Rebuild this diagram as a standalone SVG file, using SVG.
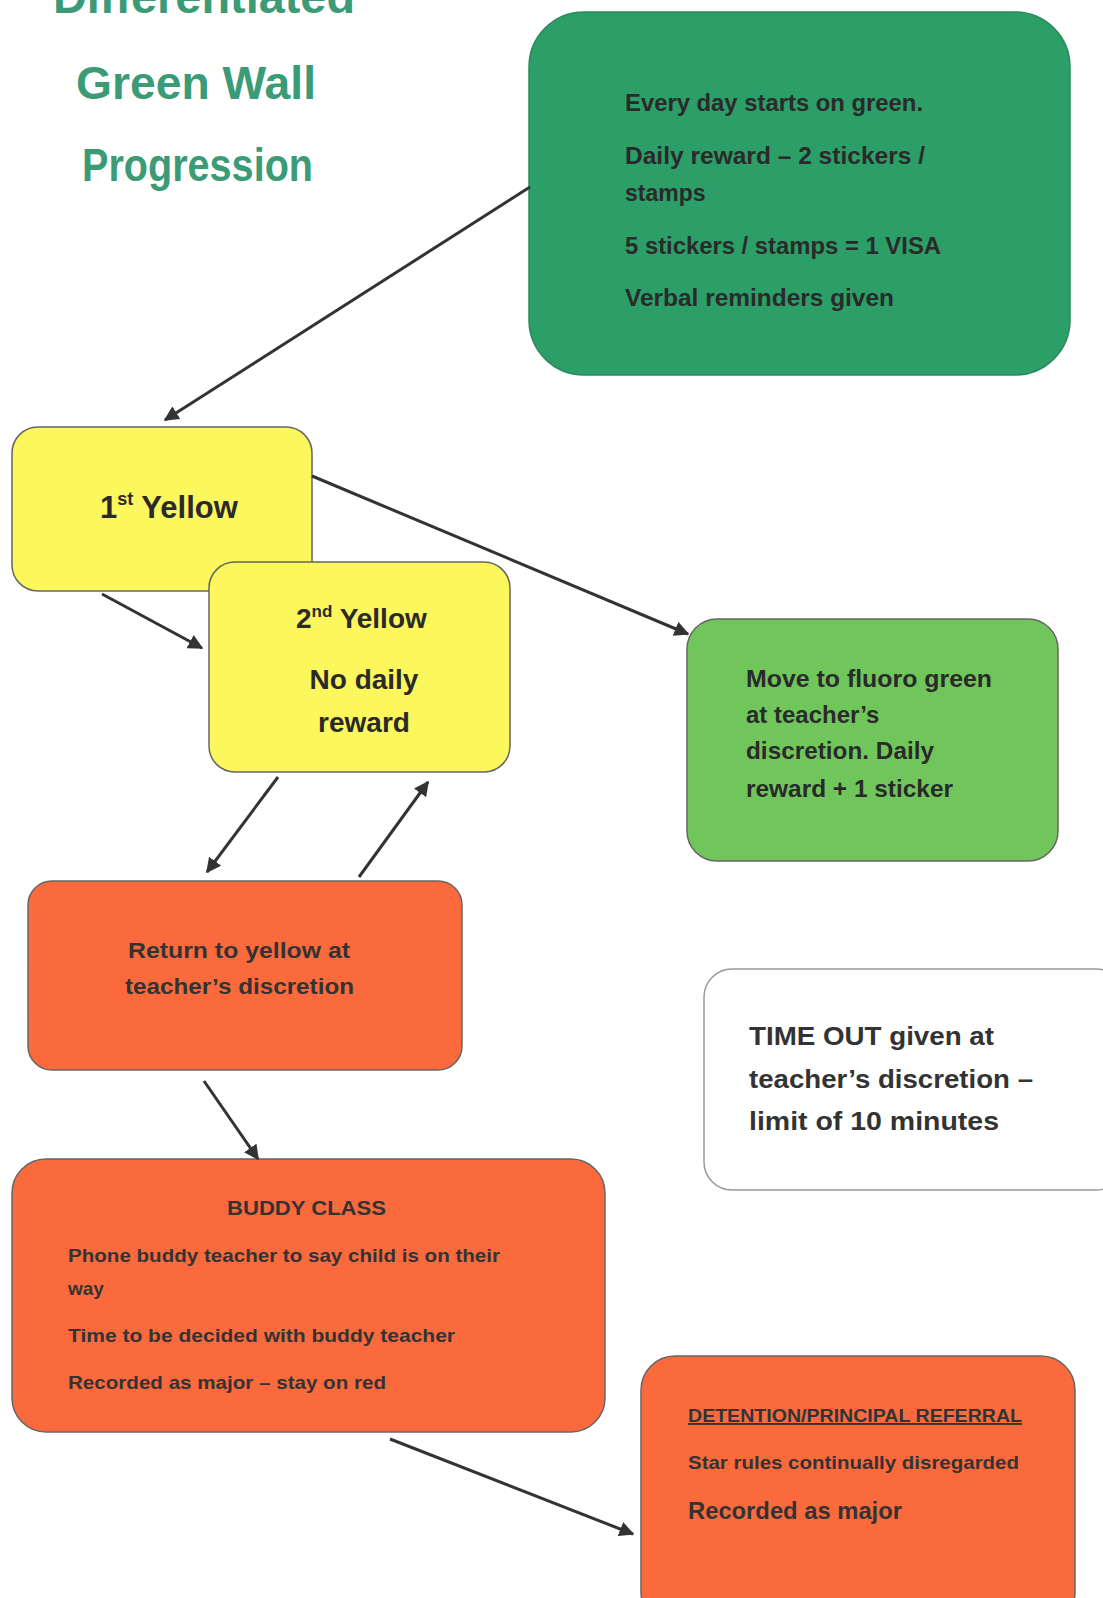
<svg xmlns="http://www.w3.org/2000/svg" width="1103" height="1598" viewBox="0 0 1103 1598">
<style>
.title{font-family:"Liberation Sans",Arial,sans-serif;font-weight:bold;font-size:46px;fill:#3b9b76}
.t{font-family:"Liberation Sans",Arial,sans-serif;font-weight:bold;fill:#2a2a2a}
.r{font-family:"Liberation Sans",Arial,sans-serif;font-weight:bold;fill:#333}
.box{stroke:#666;stroke-width:1.5}
.conn line{stroke:#333;stroke-width:3;marker-end:url(#ah)}
</style>
<defs>
<marker id="ah" viewBox="0 0 10 10" refX="9" refY="5" markerWidth="5" markerHeight="5" orient="auto">
<path d="M0,0 L10,5 L0,10 z" fill="#333"/>
</marker>
</defs>
<rect width="1103" height="1598" fill="#fff"/>
<g id="title">
<text class="title" x="53" y="13" textLength="302" lengthAdjust="spacingAndGlyphs">Differentiated</text>
<text class="title" x="76" y="99" textLength="240" lengthAdjust="spacingAndGlyphs">Green Wall</text>
<text class="title" x="82" y="181" textLength="231" lengthAdjust="spacingAndGlyphs">Progression</text>
</g>
<g id="green">
<rect x="529" y="12" width="541" height="363" rx="55" fill="#2c9e68" stroke="#2a8a5c" stroke-width="1.5"/>
<text class="t" font-size="23" x="625" y="111" textLength="298" lengthAdjust="spacingAndGlyphs">Every day starts on green.</text>
<text class="t" font-size="23" x="625" y="164" textLength="300" lengthAdjust="spacingAndGlyphs">Daily reward – 2 stickers /</text>
<text class="t" font-size="23" x="625" y="201">stamps</text>
<text class="t" font-size="23" x="625" y="254" textLength="316" lengthAdjust="spacingAndGlyphs">5 stickers / stamps = 1 VISA</text>
<text class="t" font-size="23" x="625" y="306" textLength="269" lengthAdjust="spacingAndGlyphs">Verbal reminders given</text>
</g>
<g id="yellow1">
<rect class="box" x="12" y="427" width="300" height="164" rx="26" fill="#fbf75c"/>
<text class="t" font-size="31" x="100" y="518" fill="#111">1<tspan font-size="18" dy="-13">st</tspan><tspan dy="13"> Yellow</tspan></text>
</g>
<g id="yellow2">
<rect class="box" x="209" y="562" width="301" height="210" rx="26" fill="#fbf75c"/>
<text class="t" font-size="28" x="296" y="628" fill="#111">2<tspan font-size="17" dy="-11">nd</tspan><tspan dy="11"> Yellow</tspan></text>
<text class="t" font-size="28" x="364" y="689" text-anchor="middle" fill="#111">No daily</text>
<text class="t" font-size="28" x="364" y="732" text-anchor="middle" fill="#111">reward</text>
</g>
<g id="fluoro">
<rect class="box" x="687" y="619" width="371" height="242" rx="30" fill="#70c65b"/>
<text class="t" font-size="24" x="746" y="687" textLength="246" lengthAdjust="spacingAndGlyphs">Move to fluoro green</text>
<text class="t" font-size="24" x="746" y="723">at teacher’s</text>
<text class="t" font-size="24" x="746" y="759" textLength="188" lengthAdjust="spacingAndGlyphs">discretion. Daily</text>
<text class="t" font-size="24" x="746" y="797" textLength="207" lengthAdjust="spacingAndGlyphs">reward + 1 sticker</text>
</g>
<g id="return">
<rect class="box" x="28" y="881" width="434" height="189" rx="24" fill="#fb6a3c"/>
<text class="r" font-size="22" x="128" y="958" textLength="222" lengthAdjust="spacingAndGlyphs">Return to yellow at</text>
<text class="r" font-size="22" x="125" y="994" textLength="229" lengthAdjust="spacingAndGlyphs">teacher’s discretion</text>
</g>
<g id="timeout">
<rect x="704" y="969" width="420" height="221" rx="28" fill="#fff" stroke="#999" stroke-width="1.5"/>
<text class="r" font-size="25" x="749" y="1045" fill="#444" textLength="245" lengthAdjust="spacingAndGlyphs">TIME OUT given at</text>
<text class="r" font-size="25" x="749" y="1088" fill="#444" textLength="284" lengthAdjust="spacingAndGlyphs">teacher’s discretion –</text>
<text class="r" font-size="25" x="749" y="1130" fill="#444" textLength="250" lengthAdjust="spacingAndGlyphs">limit of 10 minutes</text>
</g>
<g id="buddy">
<rect class="box" x="12" y="1159" width="593" height="273" rx="34" fill="#fb6a3c"/>
<text class="r" font-size="20" x="227" y="1215" font-weight="normal" fill="#222" textLength="159" lengthAdjust="spacingAndGlyphs">BUDDY CLASS</text>
<text class="r" font-size="19" x="68" y="1262" fill="#222" textLength="432" lengthAdjust="spacingAndGlyphs">Phone buddy teacher to say child is on their</text>
<text class="r" font-size="19" x="68" y="1295" fill="#222">way</text>
<text class="r" font-size="19" x="68" y="1342" fill="#222" textLength="387" lengthAdjust="spacingAndGlyphs">Time to be decided with buddy teacher</text>
<text class="r" font-size="19" x="68" y="1389" fill="#222" textLength="318" lengthAdjust="spacingAndGlyphs">Recorded as major – stay on red</text>
</g>
<g id="detention">
<rect class="box" x="641" y="1356" width="434" height="270" rx="34" fill="#fb6a3c"/>
<text class="r" font-size="19" x="688" y="1422" fill="#222" text-decoration="underline" textLength="334" lengthAdjust="spacingAndGlyphs">DETENTION/PRINCIPAL REFERRAL</text>
<text class="r" font-size="19" x="688" y="1469" fill="#222" textLength="331" lengthAdjust="spacingAndGlyphs">Star rules continually disregarded</text>
<text class="r" font-size="24" x="688" y="1519" fill="#222" textLength="214" lengthAdjust="spacingAndGlyphs">Recorded as major</text>
</g>
<g id="connectors" class="conn">
<line x1="530" y1="187" x2="165" y2="420"/>
<line x1="102" y1="594" x2="202" y2="648"/>
<line x1="312" y1="476" x2="688" y2="634"/>
<line x1="278" y1="777" x2="207" y2="872"/>
<line x1="359" y1="877" x2="428" y2="782"/>
<line x1="204" y1="1081" x2="258" y2="1159"/>
<line x1="390" y1="1439" x2="633" y2="1534"/>
</g>
</svg>
